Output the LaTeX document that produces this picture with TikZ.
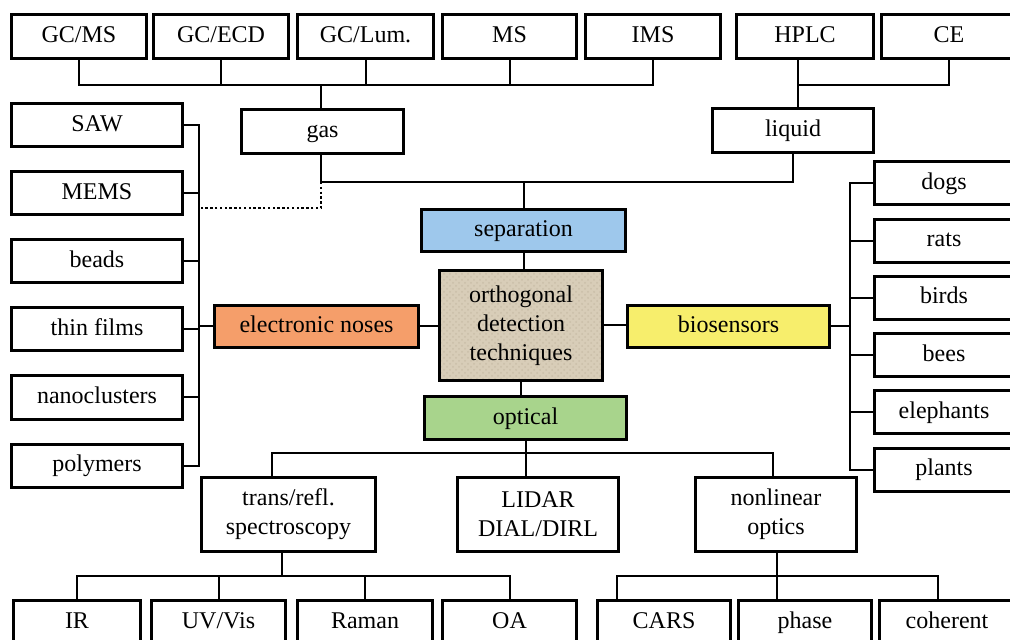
\documentclass[tikz,border=0pt]{standalone}
\usepackage{fontspec}
\setmainfont{Liberation Serif}
\usetikzlibrary{patterns}

\definecolor{sepblue}{RGB}{158,200,236}
\definecolor{noseorange}{RGB}{245,158,106}
\definecolor{bioyellow}{RGB}{247,238,108}
\definecolor{optgreen}{RGB}{168,212,140}
\definecolor{linen}{RGB}{216,205,184}
\definecolor{linendots}{RGB}{202,190,168}

\begin{document}
\begin{tikzpicture}[x=0.5pt,y=-0.5pt,
  box/.style={draw, line width=1.5pt, fill=white, inner sep=0pt, align=center,
    font=\fontsize{12}{14.5}\selectfont},
  one/.style={text height=8.5pt, text depth=2.5pt},
  sz/.style 2 args={minimum width=#1*0.5pt, minimum height=#2*0.5pt},
  link/.style={line width=1pt}]

\useasboundingbox (0,0) rectangle (1010,640);
\clip (0,0) rectangle (1010,640);

% Top row: separation methods
\node[box,one,sz={135}{44}] (gcms)  at (79,36.5)    {GC/MS};
\node[box,one,sz={135}{44}] (gcecd) at (221,36.5)   {GC/ECD};
\node[box,one,sz={136}{44}] (gclum) at (365.5,36.5) {GC/Lum.};
\node[box,one,sz={134}{44}] (ms)    at (509.5,36.5) {MS};
\node[box,one,sz={135}{44}] (ims)   at (653,36.5)   {IMS};
\node[box,one,sz={137}{44}] (hplc)  at (805,36.5)   {HPLC};
\node[box,one,sz={135}{44}] (ce)    at (949,36.5)   {CE};

% Gas and liquid
\node[box,one,sz={162}{44}] (gas)    at (322.5,131.5) {gas};
\node[box,one,sz={161}{44}] (liquid) at (793,130.5)   {liquid};

% Centre
\node[box,one,sz={204}{42},fill=sepblue]    (separation) at (523.5,230.5) {separation};
\node[box,sz={163}{110},fill=none,preaction={fill=linen},
  preaction={pattern=crosshatch dots, pattern color=linendots}]
  (odt) at (521,325.5) {orthogonal\\detection\\techniques};
\node[box,one,sz={204}{42},fill=noseorange] (enose)      at (316.5,326.5) {electronic noses};
\node[box,one,sz={202}{42},fill=bioyellow]  (biosensors) at (728.5,326.5) {biosensors};
\node[box,one,sz={202}{43},fill=optgreen]   (optical)    at (525.5,418)   {optical};

% Left column
\node[box,one,sz={171}{43}] (saw)          at (97,125.5) {SAW};
\node[box,one,sz={171}{43}] (mems)         at (97,193.5) {MEMS};
\node[box,one,sz={171}{43}] (beads)        at (97,261.5) {beads};
\node[box,one,sz={171}{43}] (thinfilms)    at (97,329.5) {thin films};
\node[box,one,sz={171}{43}] (nanoclusters) at (97,397.5) {nanoclusters};
\node[box,one,sz={171}{43}] (polymers)     at (97,465.5) {polymers};

% Right column
\node[box,one,sz={140}{43}] (dogs)      at (944,183.5) {dogs};
\node[box,one,sz={140}{43}] (rats)      at (944,240.7) {rats};
\node[box,one,sz={140}{43}] (birds)     at (944,297.9) {birds};
\node[box,one,sz={140}{43}] (bees)      at (944,355.1) {bees};
\node[box,one,sz={140}{43}] (elephants) at (944,412.3) {elephants};
\node[box,one,sz={140}{43}] (plants)    at (944,469.5) {plants};

% Optical branches
\node[box,sz={174}{74}] (trans)  at (288.5,514.5) {trans/refl.\\spectroscopy};
\node[box,sz={161}{74}] (lidar)  at (538,514.5)   {LIDAR\\DIAL/DIRL};
\node[box,sz={161}{74}] (nonlin) at (776,514.5)   {nonlinear\\optics};

% Bottom row
\node[box,one,sz={127}{44}] (ir)       at (77,622.5)    {IR};
\node[box,one,sz={134}{44}] (uvvis)    at (218.5,622.5) {UV/Vis};
\node[box,one,sz={135}{44}] (raman)    at (365,622.5)   {Raman};
\node[box,one,sz={134}{44}] (oa)       at (509.5,622.5) {OA};
\node[box,one,sz={133}{44}] (cars)     at (664,622.5)   {CARS};
\node[box,one,sz={133}{44}] (phase)    at (805,622.5)   {phase};
\node[box,one,sz={135}{44}] (coherent) at (947,622.5)   {coherent};

% Buses
\coordinate (gbus)   at (321,85);
\coordinate (lqbus)  at (798,85);
\coordinate (sepbus) at (523.5,182);
\coordinate (dotend) at (199,208);
\coordinate (lbus)   at (199,326.5);
\coordinate (rbus)   at (850,326.5);
\coordinate (transtick)  at (272,453);
\coordinate (nonlintick) at (773,453);
\coordinate (tbus)     at (282,576);
\coordinate (nbus)     at (777,576);
\coordinate (carstick) at (617,576);
\coordinate (cohtick)  at (938,576);

% Top connectors
\foreach \n in {gcms,gcecd,gclum,ms,ims}
  \draw[link] (\n.south) |- (gbus);
\draw[link] (gbus) -- (gbus |- gas.north);
\draw[link] (hplc.south -| lqbus) -- (lqbus |- liquid.north);
\draw[link] (ce.south) |- (lqbus);

% Gas/liquid to separation
\draw[link] (gbus |- gas.south) |- (sepbus) -| (liquid.south);
\draw[link] (sepbus) -- (separation.north);
\draw[link, line width=1.2pt, dash pattern=on 1.2pt off 1.2pt] (gbus |- sepbus) |- (dotend);

% Centre connectors
\draw[link] (separation.south) -- (separation.south |- odt.north);
\draw[link] (odt.south) -- (odt.south |- optical.north);
\draw[link] (enose.east) -- (enose.east -| odt.west);
\draw[link] (odt.east) -- (odt.east -| biosensors.west);

% Left and right columns
\foreach \n in {saw,mems,beads,thinfilms,nanoclusters,polymers}
  \draw[link] (\n.east) -| (lbus);
\draw[link] (lbus) -- (enose.west);
\foreach \n in {dogs,rats,birds,bees,elephants,plants}
  \draw[link] (\n.west) -| (rbus);
\draw[link] (biosensors.east) -- (rbus);

% Optical connectors
\draw[link] (trans.north -| transtick) -- (transtick) -- (nonlintick) -- (nonlin.north -| nonlintick);
\draw[link] (optical.south) -- (optical.south |- lidar.north);
\draw[link] (trans.south -| tbus) -- (tbus);
\foreach \n in {ir,uvvis,raman,oa}
  \draw[link] (\n.north) |- (tbus);
\draw[link] (nonlin.south -| nbus) -- (nbus);
\draw[link] (cars.north -| carstick) -- (carstick) -- (cohtick) -- (coherent.north -| cohtick);
\draw[link] (phase.north -| nbus) -- (nbus);

\end{tikzpicture}
\end{document}
